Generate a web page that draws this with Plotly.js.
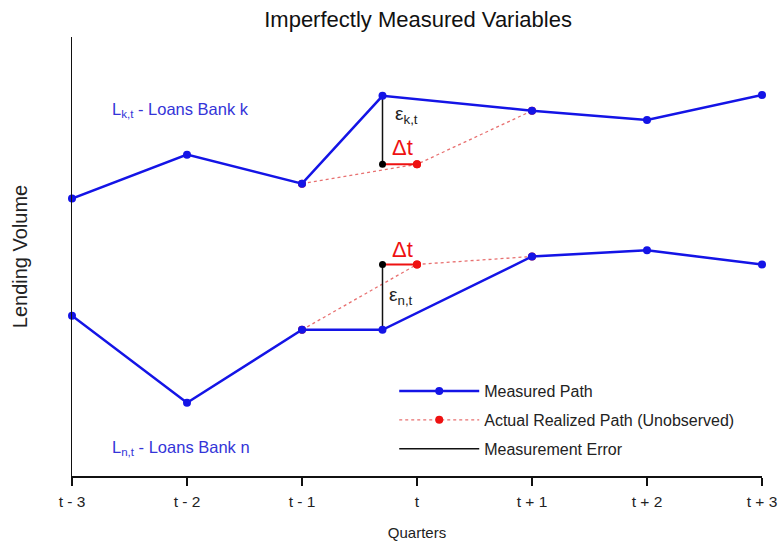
<!DOCTYPE html>
<html>
<head>
<meta charset="utf-8">
<script src="https://cdn.plot.ly/plotly-3.0.1.min.js"></script>
<style>html,body{margin:0;padding:0;background:#fff;}#chart{width:780px;height:546px;}</style>
</head>
<body>
<div id="chart"></div>
<script>
const quarterLabels = ['t - 3', 't - 2', 't - 1', 't', 't + 1', 't + 2', 't + 3'];
const quarterPos = [0, 1, 2, 3, 4, 5, 6];

const measuredX = [0, 1, 2, 2.7, 4, 5, 6];
const bankK = [63.2, 73.2, 66.6, 86.6, 83.2, 81.1, 86.8];
const bankN = [36.5, 16.7, 33.3, 33.3, 50.0, 51.4, 48.2];

const realizedX = [2, 3, 4];
const realizedK = [66.6, 71.0, 83.2];
const realizedN = [33.3, 48.2, 50.0];

const errorX = [2.7, 2.7];
const errorK = [86.6, 71.0];
const errorN = [33.3, 48.2];

const deltaX = [2.7, 3];
const deltaK = [71.0, 71.0];
const deltaN = [48.2, 48.2];

const BLUE = '#1414e6';
const RED = '#ee1111';
const LABEL_BLUE = '#3434d8';
const FONT = 'Liberation Sans, Arial, sans-serif';

const traces = [
  {x: realizedX, y: realizedK, mode: 'lines+markers', name: 'Actual Realized Path (Unobserved)',
   line: {color: '#e87070', width: 1.3, dash: 'dot'}, marker: {color: RED, size: 8},
   legendgroup: 'b', legendrank: 2, cliponaxis: false},
  {x: realizedX, y: realizedN, mode: 'lines+markers', showlegend: false, legendgroup: 'b',
   line: {color: '#e87070', width: 1.3, dash: 'dot'}, marker: {color: RED, size: 8}, cliponaxis: false},
  {x: deltaX, y: deltaK, mode: 'lines', showlegend: false, line: {color: RED, width: 2}, hoverinfo: 'skip'},
  {x: deltaX, y: deltaN, mode: 'lines', showlegend: false, line: {color: RED, width: 2}, hoverinfo: 'skip'},
  {x: errorX, y: errorK, mode: 'lines', name: 'Measurement Error', legendgroup: 'c', legendrank: 3,
   line: {color: '#111', width: 1.5}},
  {x: errorX, y: errorN, mode: 'lines', showlegend: false, legendgroup: 'c', line: {color: '#111', width: 1.5}},
  {x: [errorX[1], errorX[0]], y: [errorK[1], errorN[1]], mode: 'markers', showlegend: false,
   marker: {color: '#000', size: 7}},
  {x: measuredX, y: bankK, mode: 'lines+markers', name: 'Measured Path', legendgroup: 'a', legendrank: 1,
   line: {color: BLUE, width: 2.5}, marker: {color: BLUE, size: 8}, cliponaxis: false},
  {x: measuredX, y: bankN, mode: 'lines+markers', showlegend: false, legendgroup: 'a',
   line: {color: BLUE, width: 2.5}, marker: {color: BLUE, size: 8}, cliponaxis: false},
  {x: [deltaX[1]], y: [deltaK[1]], mode: 'markers', showlegend: false, marker: {color: RED, size: 8}},
  {x: [deltaX[1]], y: [deltaN[1]], mode: 'markers', showlegend: false, marker: {color: RED, size: 8}}
];

const layout = {
  width: 780, height: 546,
  margin: {l: 72, r: 18, t: 37, b: 70},
  paper_bgcolor: '#fff', plot_bgcolor: '#fff',
  font: {family: FONT, color: '#222', size: 15},
  title: {text: 'Imperfectly Measured Variables', font: {family: FONT, size: 22, color: '#111'},
          x: 0.536, xanchor: 'center', y: 1 - 19 / 546, yanchor: 'middle', yref: 'container'},
  xaxis: {
    range: [0, 6], tickvals: quarterPos, ticktext: quarterLabels,
    showgrid: false, zeroline: false, showline: true, linecolor: '#111', linewidth: 1.5,
    ticks: 'outside', ticklen: 8, tickcolor: '#111', tickwidth: 1.2, ticklabelstandoff: 3,
    tickfont: {family: FONT, size: 15.5, color: '#222'},
    title: {text: 'Quarters', font: {family: FONT, size: 15, color: '#222'}, standoff: 18}
  },
  yaxis: {
    range: [0, 100], showgrid: false, zeroline: false, showline: true, linecolor: '#111', linewidth: 1.5,
    ticks: '', showticklabels: false,
    title: {text: 'Lending Volume', font: {family: FONT, size: 20, color: '#222'}, standoff: 37}
  },
  showlegend: true,
  legend: {x: 0.467, y: 0.232, xanchor: 'left', yanchor: 'top', bgcolor: 'rgba(0,0,0,0)',
           font: {family: FONT, size: 16, color: '#222'}, itemwidth: 80, tracegroupgap: 5,
           traceorder: 'grouped'},
  annotations: [
    {x: 0.33, y: 83.3, xref: 'x', yref: 'y', xanchor: 'left', yanchor: 'middle', showarrow: false,
     text: 'L<sub>k,t</sub> - Loans Bank k', font: {family: FONT, size: 16.5, color: LABEL_BLUE}},
    {x: 0.33, y: 6.4, xref: 'x', yref: 'y', xanchor: 'left', yanchor: 'middle', showarrow: false,
     text: 'L<sub>n,t</sub> - Loans Bank n', font: {family: FONT, size: 16.5, color: LABEL_BLUE}},
    {x: 2.79, y: 82.2, xref: 'x', yref: 'y', xanchor: 'left', yanchor: 'middle', showarrow: false,
     text: 'ε<sub>k,t</sub>', font: {family: FONT, size: 19, color: '#222'}},
    {x: 2.74, y: 41.1, xref: 'x', yref: 'y', xanchor: 'left', yanchor: 'middle', showarrow: false,
     text: 'ε<sub>n,t</sub>', font: {family: FONT, size: 19, color: '#222'}},
    {x: 2.87, y: 74.8, xref: 'x', yref: 'y', xanchor: 'center', yanchor: 'middle', showarrow: false,
     text: 'Δt', font: {family: FONT, size: 22, color: RED}},
    {x: 2.87, y: 51.6, xref: 'x', yref: 'y', xanchor: 'center', yanchor: 'middle', showarrow: false,
     text: 'Δt', font: {family: FONT, size: 22, color: RED}}
  ]
};

Plotly.newPlot('chart', traces, layout, {displayModeBar: false, staticPlot: true});
</script>
</body>
</html>
